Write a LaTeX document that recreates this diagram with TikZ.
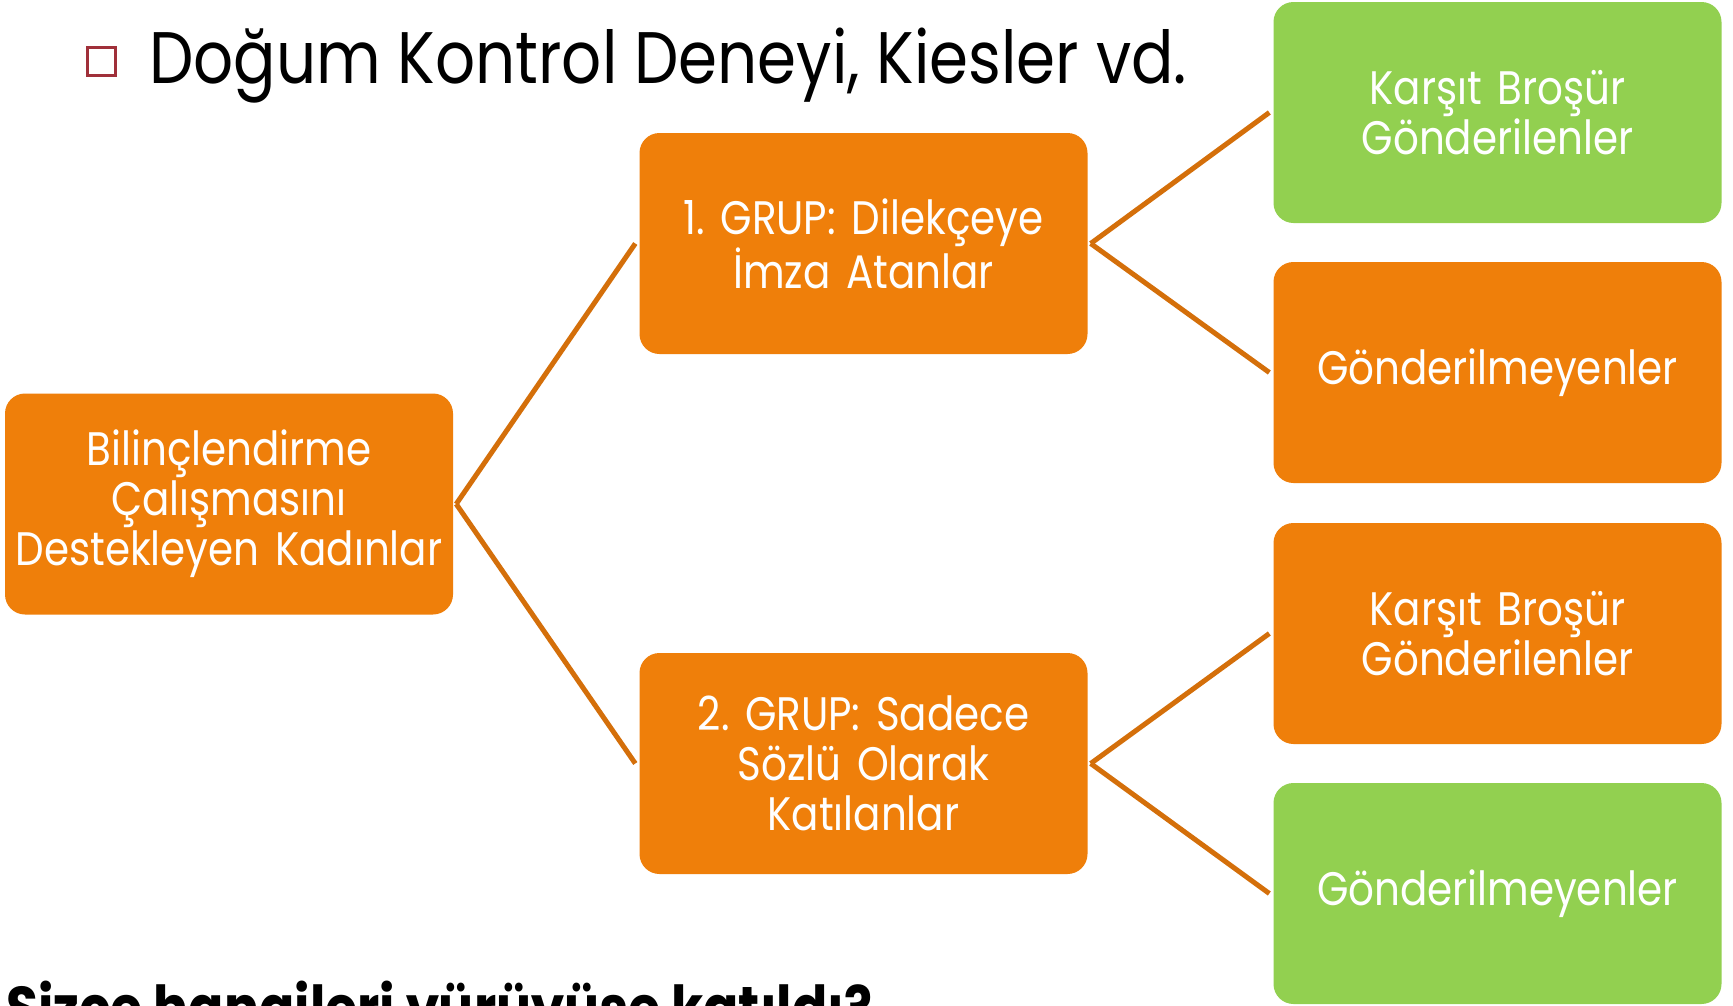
\documentclass[tikz,border=0pt]{standalone}
\usepackage{fontspec}
\setmainfont{Poppins}[FakeStretch=0.86]
\frenchspacing
\definecolor{boxorange}{HTML}{EF7F0A}
\definecolor{boxgreen}{HTML}{92D050}
\definecolor{linkorange}{HTML}{D46F0A}
\definecolor{bulletred}{HTML}{A0303A}
\tikzset{
  card/.style={rounded corners=20pt, minimum width=448pt, minimum height=221pt,
    inner sep=0pt, text=white, align=center, text width=440pt,
    font=\fontsize{47}{50}\selectfont\frenchspacing},
  orangecard/.style={card, fill=boxorange},
  greencard/.style={card, fill=boxgreen},
  link/.style={draw=linkorange, line width=5pt}
}
\begin{document}
\begin{tikzpicture}[x=1pt,y=-1pt]
\useasboundingbox (0,0) rectangle (1733,1005);
\fill[white] (0,0) rectangle (1733,1005);

\node[draw=bulletred, line width=3.5pt, minimum size=28pt, inner sep=0pt] (bullet) at (101.5,61.5) {};
\node[anchor=base west, inner sep=0pt, font=\fontsize{73}{80}\selectfont] (title) at (149,83) {Doğum Kontrol Deneyi, Kiesler vd.};

\node[orangecard] (L) at (229,504) {Bilinçlendirme\\Çalışmasını\\Destekleyen Kadınlar};
\node[orangecard] (M1) at (863.5,243.5) {1. GRUP: Dilekçeye\\İmza Atanlar};
\node[orangecard] (M2) at (863.5,763.5) {2. GRUP: Sadece\\Sözlü Olarak\\Katılanlar};
\node[greencard] (R1) at (1497.5,112.5) {Karşıt Broşür\\Gönderilenler};
\node[orangecard] (R2) at (1497.5,372.5) {Gönderilmeyenler};
\node[orangecard] (R3) at (1497.5,633.5) {Karşıt Broşür\\Gönderilenler};
\node[greencard] (R4) at (1497.5,893.5) {Gönderilmeyenler};

\draw[link] ([xshift=3pt]L.east) -- ([xshift=-4pt]M1.west);
\draw[link] ([xshift=3pt]L.east) -- ([xshift=-4pt]M2.west);
\draw[link] ([xshift=3pt]M1.east) -- ([xshift=-4pt]R1.west);
\draw[link] ([xshift=3pt]M1.east) -- ([xshift=-4pt]R2.west);
\draw[link] ([xshift=3pt]M2.east) -- ([xshift=-4pt]R3.west);
\draw[link] ([xshift=3pt]M2.east) -- ([xshift=-4pt]R4.west);

\node[anchor=base west, inner sep=0pt, font=\bfseries\fontsize{60.5}{62}\selectfont] (question) at (6,1029) {Sizce hangileri yürüyüşe katıldı?};
\end{tikzpicture}
\end{document}
